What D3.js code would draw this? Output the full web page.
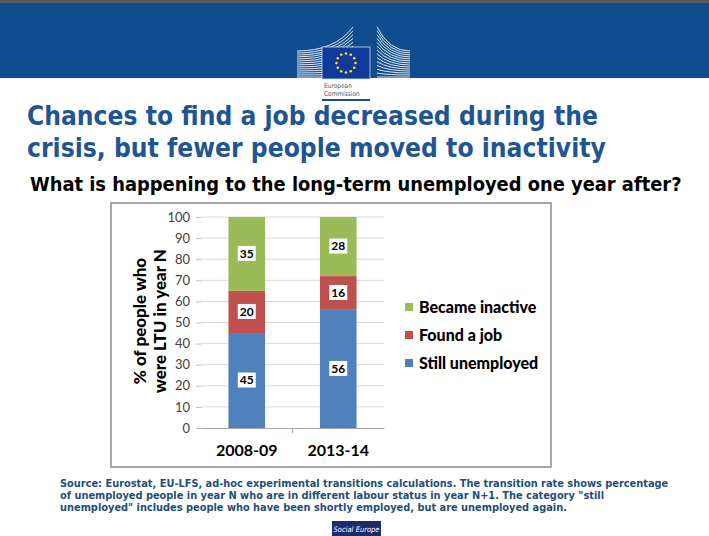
<!DOCTYPE html>
<html lang="en">
<head>
<meta charset="UTF-8">
<title>Long-term unemployed one year after</title>
<script src="https://d3js.org/d3.v7.min.js"></script>
<style>
  html, body { margin: 0; padding: 0; background: #fff; }
  svg { display: block; }
</style>
</head>
<body>
<script>
// chart data
const years = ["2008-09", "2013-14"];
const stillUnemployed = [45, 56];
const foundJob = [20, 16];
const becameInactive = [35, 28];
const seriesNames = ["Still unemployed", "Found a job", "Became inactive"];
const seriesColors = ["#4F81BD", "#C0504D", "#9BBB59"];
const yTicks = [0, 10, 20, 30, 40, 50, 60, 70, 80, 90, 100];

const titleLines = ["Chances to find a job decreased during the", "crisis, but fewer people moved to inactivity"];
const subtitle = "What is happening to the long-term unemployed one year after?";
const sourceLines = [
  "Source: Eurostat, EU-LFS, ad-hoc experimental transitions calculations. The transition rate shows percentage",
  "of unemployed people in year N who are in different labour status in year N+1. The category \"still",
  "unemployed\" includes people who have been shortly employed, but are unemployed again."
];

const W = 709, H = 536;
const svg = d3.select("body").append("svg").attr("width", W).attr("height", H);

const headFont = "DejaVu Sans Condensed, DejaVu Sans, Verdana, sans-serif";
const chartFont = "Lato, Carlito, sans-serif";

// scale font so the text spans a given width, returns the new size
function fitWidth(sel, target) {
  const fs = parseFloat(sel.attr("font-size"));
  const w = sel.node().getComputedTextLength();
  const nfs = +(fs * target / w).toFixed(2);
  sel.attr("font-size", nfs);
  return nfs;
}

// ---- header band with logo
svg.append("rect").attr("x", 0).attr("y", 0).attr("width", W).attr("height", 3).attr("fill", "#5a5a5a");
svg.append("rect").attr("x", 0).attr("y", 3).attr("width", W).attr("height", 75).attr("fill", "#0F4D8E");

const logo = svg.append("g");
for (let i = 0; i < 14; i++) {
  const y0 = 77 - i * 2;
  logo.append("path")
    .attr("d", `M297,${y0} Q335,${y0} 353,${y0 - i * 1.85}`)
    .attr("fill", "none").attr("stroke", "#dfe8f3").attr("stroke-width", 1);
  logo.append("path")
    .attr("d", `M377,${y0 - i * 1.85} Q389,${y0} 410,${y0}`)
    .attr("fill", "none").attr("stroke", "#dfe8f3").attr("stroke-width", 1);
}
logo.append("rect").attr("x", 322).attr("y", 47).attr("width", 48).attr("height", 32)
  .attr("fill", "#10399a").attr("stroke", "#cfd9ea").attr("stroke-width", 0.8);
d3.range(12).forEach(k => {
  const a = k / 12 * 2 * Math.PI;
  logo.append("circle").attr("cx", 346 + 9.5 * Math.cos(a)).attr("cy", 63 + 9.5 * Math.sin(a))
    .attr("r", 1.3).attr("fill", "#f2e33a");
});
logo.append("text").attr("x", 324).attr("y", 88).attr("font-family", "Liberation Sans Narrow, DejaVu Sans Condensed, sans-serif")
  .attr("font-size", 6.5).attr("fill", "#555").text("European");
logo.append("text").attr("x", 324).attr("y", 96).attr("font-family", "Liberation Sans Narrow, DejaVu Sans Condensed, sans-serif")
  .attr("font-size", 6.5).attr("fill", "#555").text("Commission");
logo.append("rect").attr("x", 322).attr("y", 99).attr("width", 48).attr("height", 2).attr("fill", "#1d4f8c");

// ---- titles
titleLines.forEach((t, i) => {
  const el = svg.append("text").attr("x", 27).attr("y", 125 + i * 32)
    .attr("font-family", headFont).attr("font-weight", "bold")
    .attr("font-size", 26).attr("fill", "#1F5592").text(t);
  fitWidth(el, i === 0 ? 571 : 579);
});
const sub = svg.append("text").attr("x", 30).attr("y", 191)
  .attr("font-family", headFont).attr("font-weight", "bold")
  .attr("font-size", 19).attr("fill", "#000").text(subtitle);
fitWidth(sub, 652);

// ---- chart frame
svg.append("rect").attr("x", 111).attr("y", 203).attr("width", 440).attr("height", 264)
  .attr("fill", "#fff").attr("stroke", "#8c8c8c").attr("stroke-width", 1.5);

const x = d3.scaleBand().domain(years).range([201, 384]).paddingInner(0.6).paddingOuter(0.3);
const y = d3.scaleLinear().domain([0, 100]).range([428, 217]);

// gridlines
svg.append("g").selectAll("line").data(yTicks.slice(1)).join("line")
  .attr("x1", 201).attr("x2", 384).attr("y1", d => y(d)).attr("y2", d => y(d))
  .attr("stroke", "#d9d9d9").attr("stroke-width", 1);

// y axis (labels + small ticks, no spine)
const yAxis = svg.append("g").attr("transform", "translate(201,0)")
  .call(d3.axisLeft(y).tickValues(yTicks).tickSize(5).tickPadding(6));
yAxis.select(".domain").remove();
yAxis.selectAll("line").attr("stroke", "#bfbfbf");
yAxis.selectAll("text").attr("font-family", chartFont).attr("font-size", 13).attr("fill", "#404040");

// x axis
const xAxis = svg.append("g").attr("transform", "translate(0,428)")
  .call(d3.axisBottom(x).tickSize(0).tickPadding(17));
xAxis.select(".domain").attr("stroke", "#a6a6a6");
xAxis.selectAll("text").attr("font-family", chartFont).attr("font-weight", "bold")
  .attr("font-size", 16).attr("fill", "#000");
// tick mark between the categories
const midX = (x(years[0]) + x(years[1]) + x.bandwidth()) / 2;
svg.append("line").attr("x1", midX).attr("x2", midX)
  .attr("y1", 428).attr("y2", 433).attr("stroke", "#a6a6a6");

// stacked bars
const table = years.map((yr, i) => ({
  year: yr,
  "Still unemployed": stillUnemployed[i],
  "Found a job": foundJob[i],
  "Became inactive": becameInactive[i]
}));
const stacked = d3.stack().keys(seriesNames)(table);
const color = d3.scaleOrdinal().domain(seriesNames).range(seriesColors);

const layers = svg.append("g").selectAll("g").data(stacked).join("g").attr("fill", d => color(d.key));
layers.selectAll("rect").data(d => d).join("rect")
  .attr("x", d => x(d.data.year)).attr("width", x.bandwidth())
  .attr("y", d => y(d[1])).attr("height", d => y(d[0]) - y(d[1]));

// value labels in white boxes
const labels = svg.append("g").selectAll("g")
  .data(stacked.flatMap(s => s.map(d => ({ year: d.data.year, v: d[1] - d[0], mid: (d[0] + d[1]) / 2 }))))
  .join("g")
  .attr("transform", d => `translate(${x(d.year) + x.bandwidth() / 2},${y(d.mid)})`);
labels.append("rect").attr("x", -9).attr("y", -8).attr("width", 18).attr("height", 15).attr("fill", "#fff");
labels.append("text").attr("text-anchor", "middle").attr("dy", "0.35em").attr("y", -0.5)
  .attr("font-family", chartFont).attr("font-weight", "bold").attr("font-size", 12)
  .attr("fill", "#000").text(d => d.v);

// axis title
const yTitle = svg.append("text").attr("transform", "translate(146,321) rotate(-90)")
  .attr("text-anchor", "middle").attr("font-family", chartFont)
  .attr("font-weight", "900").attr("font-size", 17).attr("fill", "#000");
yTitle.append("tspan").attr("x", 0).attr("y", 0).text("% of people who");
yTitle.append("tspan").attr("x", 0).attr("y", 20).text("were LTU in year N");

// legend (reverse order, top = Became inactive)
const legendItems = seriesNames.slice().reverse();
const legend = svg.append("g").selectAll("g").data(legendItems).join("g")
  .attr("transform", (d, i) => `translate(405,${307 + i * 28})`);
legend.append("rect").attr("x", 0).attr("y", -4).attr("width", 8).attr("height", 8).attr("fill", d => color(d));
legend.append("text").attr("x", 14).attr("dy", "0.35em")
  .attr("font-family", chartFont).attr("font-weight", "900").attr("font-size", 16)
  .attr("fill", "#000").text(d => d);

// ---- source note
let srcSize = 10;
sourceLines.forEach((t, i) => {
  const el = svg.append("text").attr("x", 60).attr("y", 487 + i * 12)
    .attr("font-family", headFont).attr("font-weight", "bold")
    .attr("font-size", srcSize).attr("fill", "#1F4E79").text(t);
  if (i === 0) srcSize = fitWidth(el, 609);
});

// ---- Social Europe badge
svg.append("rect").attr("x", 332).attr("y", 521).attr("width", 49).attr("height", 15).attr("fill", "#1c2c6b");
svg.append("text").attr("x", 356.5).attr("y", 531.5).attr("text-anchor", "middle")
  .attr("font-family", "Liberation Sans Narrow, DejaVu Sans Condensed, sans-serif").attr("font-style", "italic")
  .attr("font-size", 7.5).attr("fill", "#fff").text("Social Europe");
</script>
</body>
</html>
